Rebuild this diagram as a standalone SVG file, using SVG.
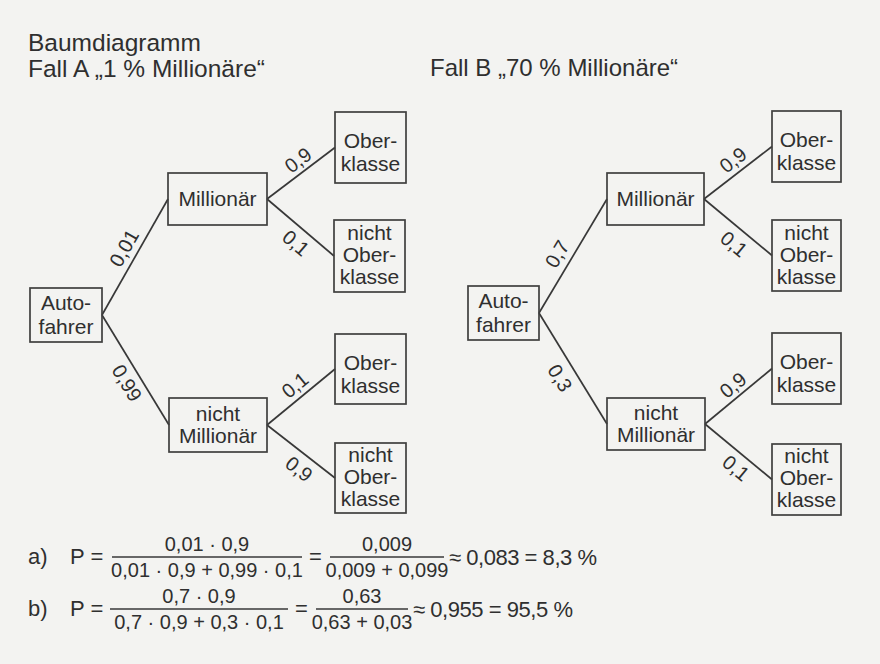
<svg xmlns="http://www.w3.org/2000/svg" width="880" height="664" viewBox="0 0 880 664">
<style>
text{font-family:"Liberation Sans",Arial,sans-serif;fill:#2f2f2f}
.t{font-size:24.5px}
.n{font-size:21px;text-anchor:middle}
.l{font-size:20px;text-anchor:middle}
.f{font-size:20px;text-anchor:middle}
.m{font-size:22px}
.r{font-size:22px}
rect{fill:none;stroke:#3f3f3f;stroke-width:1.7}
line{stroke:#383838;stroke-width:1.7}
.bar{stroke:#383838;stroke-width:1.3}
</style>
<rect x="0" y="0" width="880" height="664" style="fill:#f3f3f1;stroke:none"/>
<text class="t" x="28" y="51">Baumdiagramm</text>
<text class="t" x="28" y="77">Fall A „1 % Millionäre“</text>
<text class="t" x="430" y="76" style="font-size:24px">Fall B „70 % Millionäre“</text>

<g id="connectors">
<line x1="102" y1="315" x2="168" y2="199"/>
<line x1="102" y1="315" x2="169" y2="425"/>
<line x1="267" y1="199" x2="335" y2="147.5"/>
<line x1="267" y1="199" x2="334" y2="256"/>
<line x1="267" y1="425" x2="335" y2="369"/>
<line x1="267" y1="425" x2="335" y2="478"/>
<line x1="539" y1="313" x2="607" y2="199"/>
<line x1="539" y1="313" x2="607" y2="424"/>
<line x1="704" y1="199" x2="772" y2="146.5"/>
<line x1="704" y1="199" x2="772" y2="255.5"/>
<line x1="705" y1="424" x2="772" y2="368.5"/>
<line x1="705" y1="424" x2="772" y2="479.5"/>
<text class="l" transform="translate(124,248) rotate(-60.4)" y="7">0,01</text>
<text class="l" transform="translate(127,383) rotate(58.7)" y="7">0,99</text>
<text class="l" transform="translate(298,160) rotate(-37.1)" y="7">0,9</text>
<text class="l" transform="translate(296,243) rotate(40.4)" y="7">0,1</text>
<text class="l" transform="translate(295,385) rotate(-39.5)" y="7">0,1</text>
<text class="l" transform="translate(299,469) rotate(37.9)" y="7">0,9</text>
<text class="l" transform="translate(557,254) rotate(-59.2)" y="7">0,7</text>
<text class="l" transform="translate(560,378) rotate(58.5)" y="7">0,3</text>
<text class="l" transform="translate(733,160) rotate(-37.7)" y="7">0,9</text>
<text class="l" transform="translate(734,244) rotate(39.7)" y="7">0,1</text>
<text class="l" transform="translate(733,385) rotate(-39.6)" y="7">0,9</text>
<text class="l" transform="translate(736,468) rotate(39.6)" y="7">0,1</text>
</g>

<g id="a-autofahrer"><rect x="30" y="288" width="72" height="54"/><text class="n" x="66" y="310">Auto-</text><text class="n" x="66" y="334">fahrer</text></g>
<g id="a-millionaer"><rect x="168" y="173" width="99" height="52"/><text class="n" x="217.5" y="206">Millionär</text></g>
<g id="a-m-ober"><rect x="335" y="112" width="71" height="71"/><text class="n" x="370.5" y="148">Ober-</text><text class="n" x="370.5" y="171">klasse</text></g>
<g id="a-m-nichtober"><rect x="334" y="220" width="71" height="72"/><text class="n" x="369.5" y="240">nicht</text><text class="n" x="369.5" y="262">Ober-</text><text class="n" x="369.5" y="284">klasse</text></g>
<g id="a-nichtmillionaer"><rect x="169" y="398" width="98" height="54"/><text class="n" x="218" y="421">nicht</text><text class="n" x="218" y="443">Millionär</text></g>
<g id="a-n-ober"><rect x="335" y="334" width="71" height="70"/><text class="n" x="370.5" y="370">Ober-</text><text class="n" x="370.5" y="393">klasse</text></g>
<g id="a-n-nichtober"><rect x="335" y="443" width="71" height="70"/><text class="n" x="370.5" y="462">nicht</text><text class="n" x="370.5" y="484">Ober-</text><text class="n" x="370.5" y="506">klasse</text></g>

<g id="b-autofahrer"><rect x="468" y="286" width="71" height="54"/><text class="n" x="503.5" y="308">Auto-</text><text class="n" x="503.5" y="332">fahrer</text></g>
<g id="b-millionaer"><rect x="607" y="173" width="97" height="52"/><text class="n" x="655.5" y="206">Millionär</text></g>
<g id="b-m-ober"><rect x="772" y="111" width="69" height="71"/><text class="n" x="806.5" y="147">Ober-</text><text class="n" x="806.5" y="170">klasse</text></g>
<g id="b-m-nichtober"><rect x="772" y="220" width="69" height="71"/><text class="n" x="806.5" y="240">nicht</text><text class="n" x="806.5" y="262">Ober-</text><text class="n" x="806.5" y="284">klasse</text></g>
<g id="b-nichtmillionaer"><rect x="607" y="398" width="98" height="52"/><text class="n" x="656" y="420">nicht</text><text class="n" x="656" y="442">Millionär</text></g>
<g id="b-n-ober"><rect x="772" y="333" width="69" height="71"/><text class="n" x="806.5" y="369">Ober-</text><text class="n" x="806.5" y="392">klasse</text></g>
<g id="b-n-nichtober"><rect x="772" y="444" width="69" height="71"/><text class="n" x="806.5" y="463">nicht</text><text class="n" x="806.5" y="485">Ober-</text><text class="n" x="806.5" y="507">klasse</text></g>

<g id="formula-a">
<text class="m" x="28" y="564">a)</text>
<text class="m" x="70" y="564">P =</text>
<line class="bar" x1="112" y1="557" x2="302" y2="557"/>
<text class="f" x="207" y="551">0,01 · 0,9</text>
<text class="f" x="207" y="577">0,01 · 0,9 + 0,99 · 0,1</text>
<text class="m" x="309" y="564">=</text>
<line class="bar" x1="330" y1="557" x2="444" y2="557"/>
<text class="f" x="387" y="551">0,009</text>
<text class="f" x="387" y="577">0,009 + 0,099</text>
<text class="r" x="449" y="565" textLength="148" lengthAdjust="spacing">≈ 0,083 = 8,3 %</text>
</g>
<g id="formula-b">
<text class="m" x="28" y="616">b)</text>
<text class="m" x="70" y="616">P =</text>
<line class="bar" x1="110" y1="609" x2="288" y2="609"/>
<text class="f" x="199" y="603">0,7 · 0,9</text>
<text class="f" x="199" y="629">0,7 · 0,9 + 0,3 · 0,1</text>
<text class="m" x="295" y="616">=</text>
<line class="bar" x1="316" y1="609" x2="408" y2="609"/>
<text class="f" x="362" y="603">0,63</text>
<text class="f" x="362" y="629">0,63 + 0,03</text>
<text class="r" x="413" y="617" textLength="160" lengthAdjust="spacing">≈ 0,955 = 95,5 %</text>
</g>
</svg>
